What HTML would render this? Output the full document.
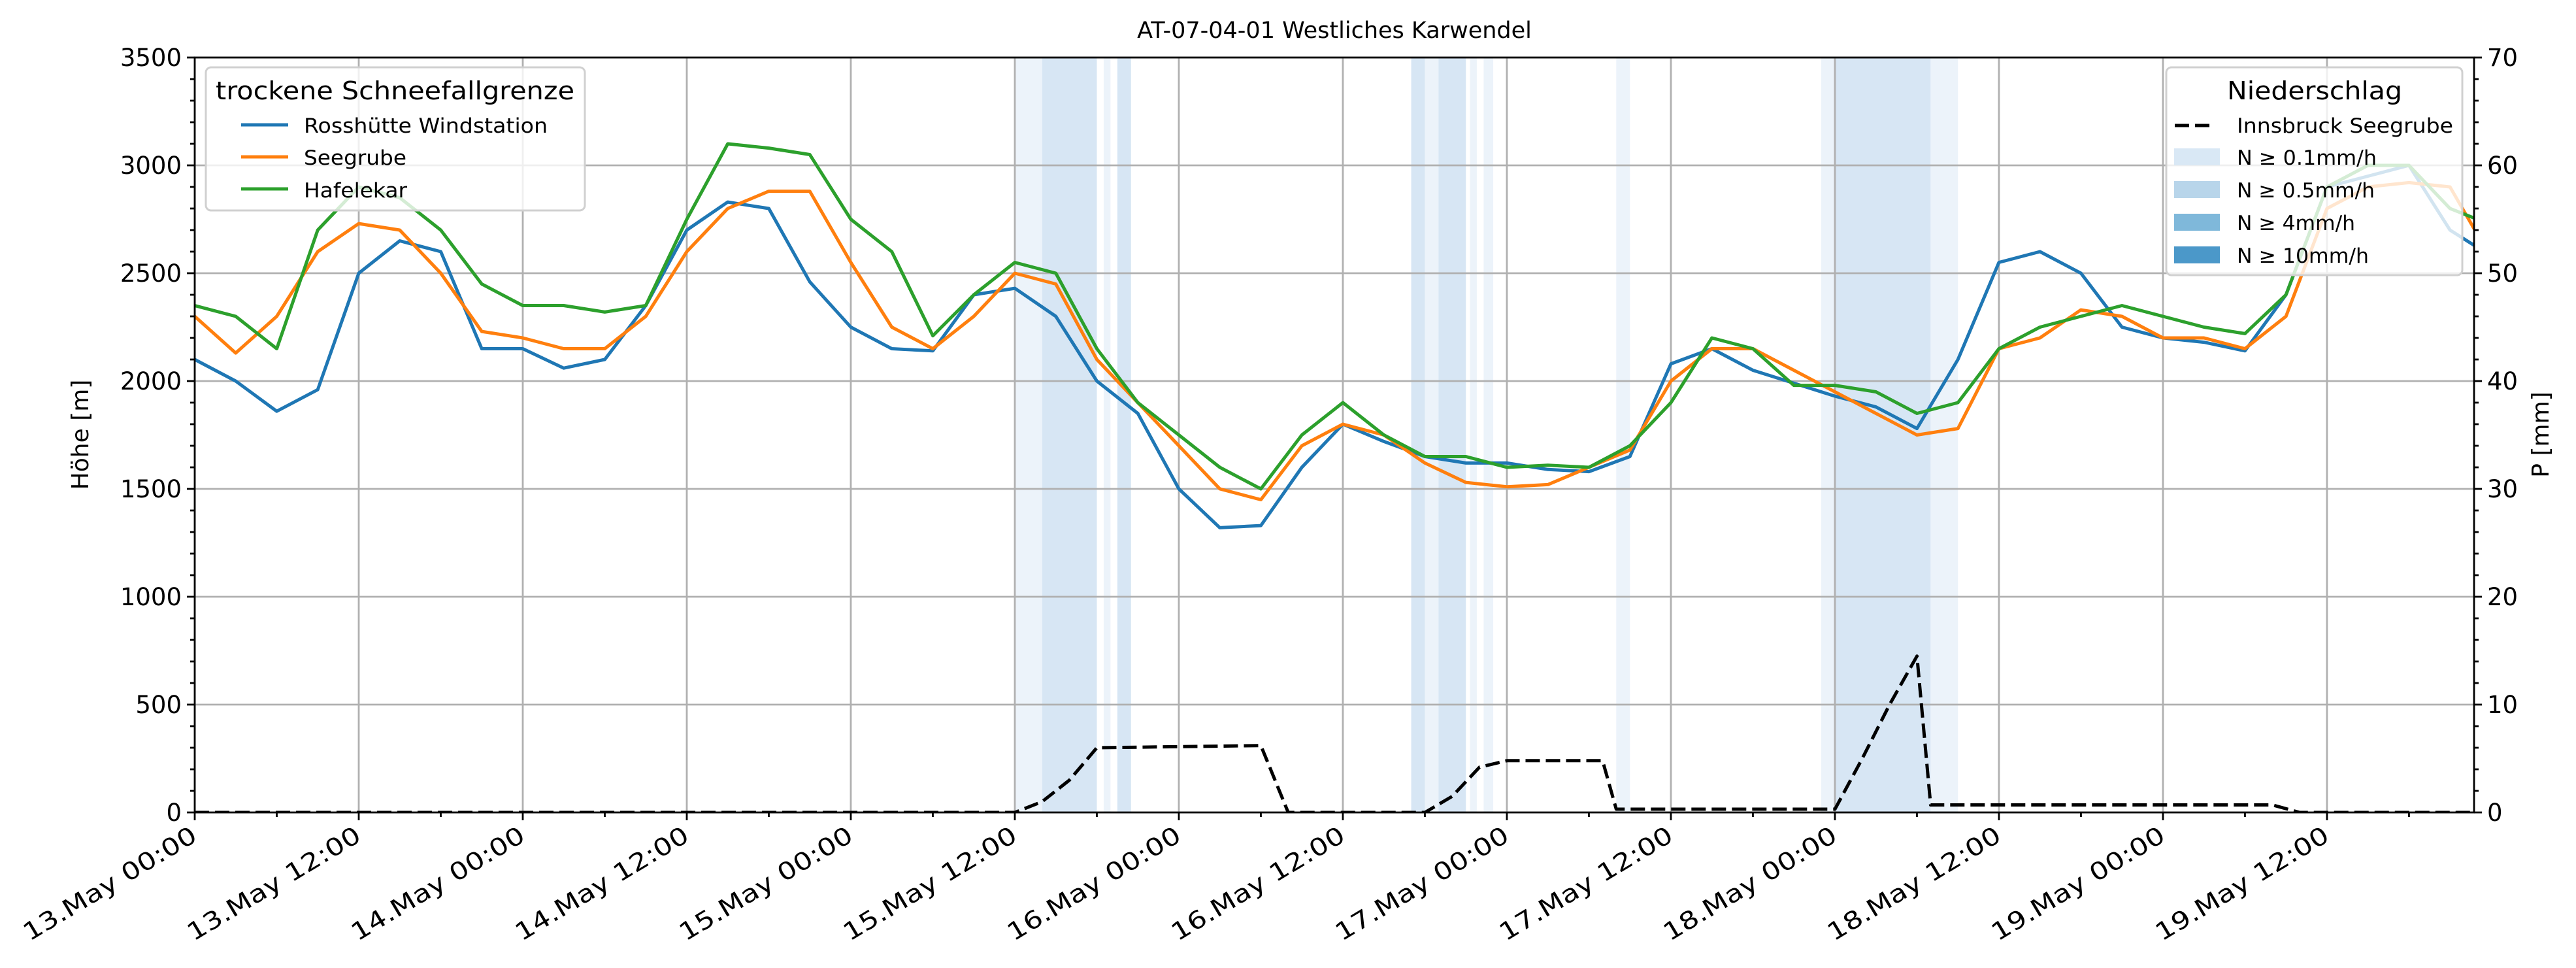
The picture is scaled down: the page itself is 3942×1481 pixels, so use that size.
<!DOCTYPE html>
<html><head><meta charset="utf-8"><style>
html,body{margin:0;padding:0;background:#fff;}
svg{display:block;font-family:"DejaVu Sans","Liberation Sans",sans-serif;}
</style></head><body>
<svg id="chart" width="3942" height="1481" viewBox="0 0 3942 1481" xmlns="http://www.w3.org/2000/svg">
<defs><clipPath id="clip"><rect x="298" y="88" width="3488" height="1155"/></clipPath></defs>
<text x="2042" y="58" font-size="35" text-anchor="middle">AT-07-04-01 Westliches Karwendel</text>
<g id="bands" clip-path="url(#clip)"></g>
<g id="grid"></g>
<g id="lines" clip-path="url(#clip)"></g>
<g id="axes"></g>
<text transform="translate(135,665) rotate(-90)" font-size="36" text-anchor="middle">Höhe [m]</text>
<text transform="translate(3900,665) rotate(-90)" font-size="36" text-anchor="middle">P [mm]</text>
<g>
<rect x="315" y="103" width="580" height="219" rx="8" fill="rgba(255,255,255,0.8)" stroke="#d0d0d0" stroke-width="3"/>
<text x="330" y="152" font-size="38" textLength="549" lengthAdjust="spacingAndGlyphs">trockene Schneefallgrenze</text>
<line x1="369" y1="191" x2="441" y2="191" stroke="#1f77b4" stroke-width="5"/>
<text x="465" y="203" font-size="31" textLength="373" lengthAdjust="spacingAndGlyphs">Rosshütte Windstation</text>
<line x1="369" y1="240" x2="441" y2="240" stroke="#ff7f0e" stroke-width="5"/>
<text x="465" y="252" font-size="31" textLength="157" lengthAdjust="spacingAndGlyphs">Seegrube</text>
<line x1="369" y1="289" x2="441" y2="289" stroke="#2ca02c" stroke-width="5"/>
<text x="465" y="302" font-size="31" textLength="158" lengthAdjust="spacingAndGlyphs">Hafelekar</text>
</g>
<g>
<rect x="3315" y="103" width="453" height="318" rx="8" fill="rgba(255,255,255,0.8)" stroke="#d0d0d0" stroke-width="3"/>
<text x="3408" y="152" font-size="38" textLength="268" lengthAdjust="spacingAndGlyphs">Niederschlag</text>
<line x1="3328" y1="192" x2="3386" y2="192" stroke="#000" stroke-width="5" stroke-dasharray="22,9"/>
<text x="3423" y="203" font-size="31" textLength="331" lengthAdjust="spacingAndGlyphs">Innsbruck Seegrube</text>
<rect x="3327" y="227" width="70" height="26" fill="#d9e8f5"/><text x="3423" y="252" font-size="31" textLength="214" lengthAdjust="spacingAndGlyphs">N ≥ 0.1mm/h</text>
<rect x="3327" y="277" width="70" height="26" fill="#b8d5ea"/><text x="3423" y="302" font-size="31" textLength="211" lengthAdjust="spacingAndGlyphs">N ≥ 0.5mm/h</text>
<rect x="3327" y="327" width="70" height="26" fill="#7fb8da"/><text x="3423" y="352" font-size="31" textLength="181" lengthAdjust="spacingAndGlyphs">N ≥ 4mm/h</text>
<rect x="3327" y="377" width="70" height="26" fill="#4b98c9"/><text x="3423" y="402" font-size="31" textLength="202" lengthAdjust="spacingAndGlyphs">N ≥ 10mm/h</text>
</g>
</svg>
<script>
const hours=[0,3,6,9,12,15,18,21,24,27,30,33,36,39,42,45,48,51,54,57,60,63,66,69,72,75,78,81,84,87,90,93,96,99,102,105,108,111,114,117,120,123,126,129,132,135,138,141,144,147,150,153,156,159,162,165,167];
const rosshuette=[2100,2000,1860,1960,2500,2650,2600,2150,2150,2060,2100,2350,2700,2830,2800,2460,2250,2150,2140,2400,2430,2300,2000,1850,1500,1320,1330,1600,1800,1720,1650,1620,1620,1590,1580,1650,2080,2150,2050,1990,1930,1880,1780,2100,2550,2600,2500,2250,2200,2180,2140,2400,2900,2950,3000,2700,2620];
const seegrube=[2300,2130,2300,2600,2730,2700,2500,2230,2200,2150,2150,2300,2600,2800,2880,2880,2550,2250,2150,2300,2500,2450,2100,1900,1700,1500,1450,1700,1800,1750,1620,1530,1510,1520,1600,1680,2000,2150,2150,2050,1950,1850,1750,1780,2150,2200,2330,2300,2200,2200,2150,2300,2800,2900,2920,2900,2680];
const hafelekar=[2350,2300,2150,2700,2900,2850,2700,2450,2350,2350,2320,2350,2750,3100,3080,3050,2750,2600,2210,2400,2550,2500,2150,1900,1750,1600,1500,1750,1900,1750,1650,1650,1600,1610,1600,1700,1900,2200,2150,1980,1980,1950,1850,1900,2150,2250,2300,2350,2300,2250,2220,2400,2900,3000,3000,2800,2750];
const precipHours=[0,60,62,64,66,78,80,90,92,94,96,103,104,120,122,124,126,127,152,154,167];
const precipVals=[0,0,1,3,6,6.2,0,0,1.5,4.2,4.8,4.8,0.3,0.3,5,10,14.5,0.7,0.7,0,0];
const bandStart=[60,62,66.5,67.5,89,90,91,93.3,94.3,104,119,120,127];
const bandEnd=[62,66,67,68.5,90,91,93,93.8,95,105,120,127,129];
const bandLevel=[1,2,1,2,2,1,2,1,1,1,1,2,1];
const yTicks=[0,500,1000,1500,2000,2500,3000,3500];
const y2Ticks=[0,10,20,30,40,50,60,70];
const xTickHours=[0,12,24,36,48,60,72,84,96,108,120,132,144,156];
const xTickLabels=["13.May 00:00","13.May 12:00","14.May 00:00","14.May 12:00","15.May 00:00","15.May 12:00","16.May 00:00","16.May 12:00","17.May 00:00","17.May 12:00","18.May 00:00","18.May 12:00","19.May 00:00","19.May 12:00"];

const X0=298,X1=3786,Y0=88,Y1=1243,HMAX=166.76;
const xs=h=>X0+h*(X1-X0)/HMAX;
const ys=v=>Y1-v*(Y1-Y0)/3500;
const ys2=v=>Y1-v*(Y1-Y0)/70;
const NS="http://www.w3.org/2000/svg";
function mk(tag,attrs,parent){const e=document.createElementNS(NS,tag);for(const k in attrs)e.setAttribute(k,attrs[k]);parent.appendChild(e);return e;}
const gB=document.getElementById('bands'),gG=document.getElementById('grid'),gL=document.getElementById('lines'),gA=document.getElementById('axes');

bandStart.forEach((s,i)=>{
  const r=mk('rect',{x:xs(s),y:Y0,width:xs(bandEnd[i])-xs(s),height:Y1-Y0,fill:bandLevel[i]==2?'#d7e6f4':'#ecf3fa'},gB);
  
  
});
xTickHours.forEach(h=>{
  const l=mk('line',{x1:xs(h),y1:Y0,x2:xs(h),y2:Y1,stroke:'#b0b0b0','stroke-width':2.8},gG);
  
  
});
yTicks.forEach(v=>{
  const l=mk('line',{x1:X0,y1:ys(v),x2:X1,y2:ys(v),stroke:'#b0b0b0','stroke-width':2.8},gG);
  
  
});
function series(hs,vs,sc,color,name,dash){
  const d=hs.map((h,i)=>(i?'L':'M')+xs(h).toFixed(1)+','+sc(vs[i]).toFixed(1)).join('');
  const p=mk('path',{d:d,fill:'none',stroke:color,'stroke-width':5,'stroke-linejoin':'round'},gL);
  if(dash)p.setAttribute('stroke-dasharray',dash);
  
  
}
series(hours,rosshuette,ys,'#1f77b4','line-rosshuette');
series(hours,seegrube,ys,'#ff7f0e','line-seegrube');
series(hours,hafelekar,ys,'#2ca02c','line-hafelekar');
series(precipHours,precipVals,ys2,'#000','line-precip-innsbruck','22,9');

const frame=mk('rect',{x:X0,y:Y0,width:X1-X0,height:Y1-Y0,fill:'none',stroke:'#000','stroke-width':2.8},gA);


for(let v=0;v<=3500;v+=100){const L=v%500==0?12:7;mk('line',{x1:X0-L,y1:ys(v),x2:X0,y2:ys(v),stroke:'#000','stroke-width':2.8},gA);}
for(let v=0;v<=70;v+=2){const L=v%10==0?12:7;mk('line',{x1:X1,y1:ys2(v),x2:X1+L,y2:ys2(v),stroke:'#000','stroke-width':2.8},gA);}
for(let h=0;h<=HMAX;h+=6){const L=h%12==0?12:7;mk('line',{x1:xs(h),y1:Y1,x2:xs(h),y2:Y1+L,stroke:'#000','stroke-width':2.8},gA);}
yTicks.forEach(v=>{
  const t=mk('text',{x:X0-20,y:ys(v)+13,'font-size':37,'text-anchor':'end'},gA);t.textContent=v;
  
  
});
y2Ticks.forEach(v=>{
  const t=mk('text',{x:X1+20,y:ys2(v)+13,'font-size':37},gA);t.textContent=v;
  
  
});
xTickHours.forEach((h,i)=>{
  const t=mk('text',{transform:`translate(${xs(h)+6},${Y1+42}) rotate(-31)`,'font-size':37,'text-anchor':'end',textLength:302,lengthAdjust:'spacingAndGlyphs'},gA);t.textContent=xTickLabels[i];
  
  
});
</script>
</body></html>
